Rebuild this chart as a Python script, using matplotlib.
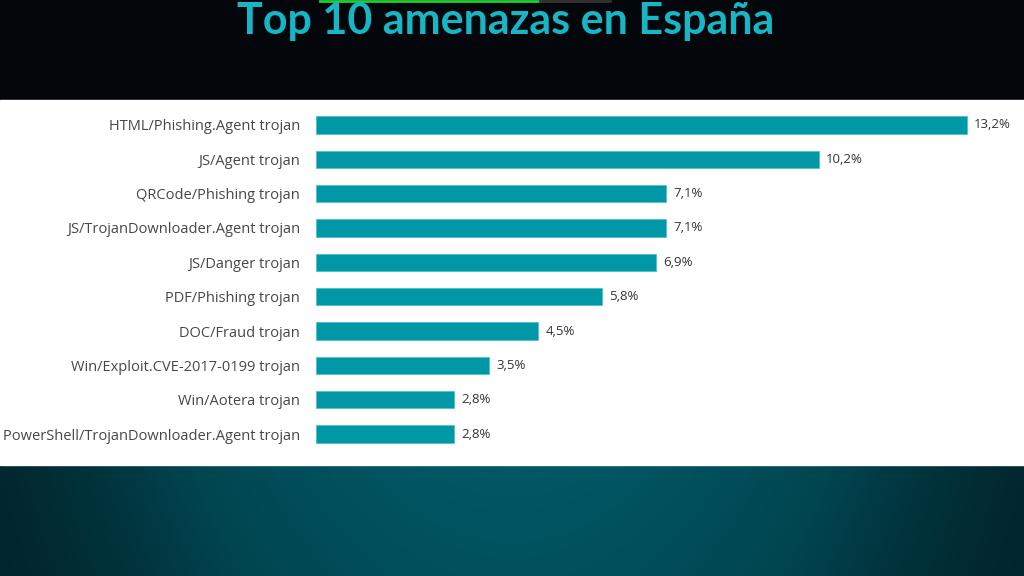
import numpy as np
import matplotlib.pyplot as plt
from matplotlib.patches import Rectangle
from matplotlib.colors import LinearSegmentedColormap

threats = ["HTML/Phishing.Agent trojan", "JS/Agent trojan", "QRCode/Phishing trojan",
           "JS/TrojanDownloader.Agent trojan", "JS/Danger trojan", "PDF/Phishing trojan",
           "DOC/Fraud trojan", "Win/Exploit.CVE-2017-0199 trojan", "Win/Aotera trojan",
           "PowerShell/TrojanDownloader.Agent trojan"]
share = [13.2, 10.2, 7.1, 7.1, 6.9, 5.8, 4.5, 3.5, 2.8, 2.8]
title = "Top 10 amenazas en España"

W, H = 1024, 576
fig = plt.figure(figsize=(W/100, H/100), dpi=100, facecolor="#03060b")

# background: black top, white panel, teal glow at the bottom
bg = fig.add_axes([0, 0, 1, 1])
bg.set_xlim(0, W)
bg.set_ylim(H, 0)
bg.axis("off")
bg.add_patch(Rectangle((0, 0), W, 100, color="#03060b"))
xx, yy = np.meshgrid(np.linspace(-1, 1, 200), np.linspace(0, 1, 60))
glow = np.exp(-(xx**2) * 1.8) * (0.8 + 0.2 * yy)
teal = LinearSegmentedColormap.from_list("teal", ["#02191f", "#004651", "#005866"])
bg.imshow(glow, extent=(0, W, 465, H), origin="upper", cmap=teal, aspect="auto",
          vmin=0, vmax=1, zorder=1)
bg.add_patch(Rectangle((0, 100), W, 365, color="white", zorder=2))
bg.plot([320, 540], [0.8, 0.8], color="#22cc33", lw=2, zorder=3)
bg.plot([540, 610], [0.8, 0.8], color="#333333", lw=2, zorder=3)
bg.text(506, 34, title, ha="center", va="baseline", fontsize=31, fontweight="bold",
        color="#17b6c4", family="Lato", zorder=3)

px = 49.3
ax = fig.add_axes([316/W, 1 - 451.2/H, 14*px/W, 343.4/H])
ax.set_facecolor("none")
y = np.arange(len(threats))
ax.barh(y, share, height=0.5, color="#0098a6", edgecolor="#4cc3cc", linewidth=0.6)
for yi, v in zip(y, share):
    ax.text(v + 0.15, yi, f"{v:.1f}%".replace(".", ","), va="center", ha="left",
            fontsize=9.5, color="#333333", family="Open Sans")
ax.set_xlim(0, 14)
ax.set_ylim(len(threats) - 0.5, -0.5)
ax.set_yticks(y)
ax.set_yticklabels(threats, fontsize=10.5, color="#474747", family="Open Sans")
ax.tick_params(axis="y", length=0, pad=11.5)
ax.set_xticks([])
for s in ax.spines.values():
    s.set_visible(False)

fig.savefig("out.png", dpi=100, facecolor=fig.get_facecolor())
